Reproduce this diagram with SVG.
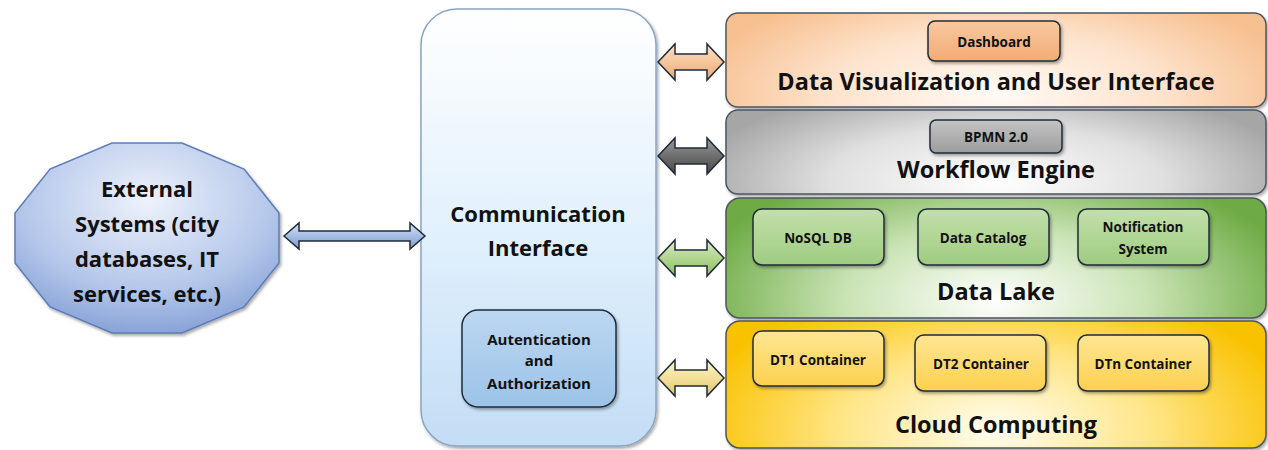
<svg xmlns="http://www.w3.org/2000/svg" width="1268" height="450" viewBox="0 0 1268 450">
<defs>
<linearGradient id="gComm" x1="0" y1="0" x2="0" y2="1"><stop offset="0" stop-color="#ffffff"/><stop offset="0.5" stop-color="#e2f1fd"/><stop offset="1" stop-color="#c3ddf5"/></linearGradient>
<radialGradient id="gExt" cx="0.5" cy="0.3" r="0.8"><stop offset="0" stop-color="#eef2fb"/><stop offset="0.6" stop-color="#b3c6ea"/><stop offset="1" stop-color="#7795d0"/></radialGradient>
<radialGradient id="gOr" cx="0.5" cy="0.85" r="0.75" gradientTransform="translate(0.5 0.85) scale(0.75 1.6) translate(-0.5 -0.85)"><stop offset="0" stop-color="#fffaf5"/><stop offset="0.55" stop-color="#fde3cc"/><stop offset="1" stop-color="#f7c091"/></radialGradient>
<radialGradient id="gGr" cx="0.5" cy="0.85" r="0.75" gradientTransform="translate(0.5 0.85) scale(0.75 1.6) translate(-0.5 -0.85)"><stop offset="0" stop-color="#ffffff"/><stop offset="0.55" stop-color="#e0e0e0"/><stop offset="1" stop-color="#a6a6a6"/></radialGradient>
<radialGradient id="gGn" cx="0.5" cy="0.85" r="0.75" gradientTransform="translate(0.5 0.85) scale(0.75 1.6) translate(-0.5 -0.85)"><stop offset="0" stop-color="#ffffff"/><stop offset="0.5" stop-color="#c9e3b4"/><stop offset="1" stop-color="#6eab45"/></radialGradient>
<radialGradient id="gYl" cx="0.5" cy="0.85" r="0.75" gradientTransform="translate(0.5 0.85) scale(0.75 1.6) translate(-0.5 -0.85)"><stop offset="0" stop-color="#fffdf0"/><stop offset="0.5" stop-color="#ffe68a"/><stop offset="1" stop-color="#f9c200"/></radialGradient>
<linearGradient id="aBlue" x1="0" y1="0" x2="0" y2="1"><stop offset="0" stop-color="#d6e2f5"/><stop offset="0.5" stop-color="#a6bde4"/><stop offset="1" stop-color="#7e9bcc"/></linearGradient>
<linearGradient id="aOr" x1="0" y1="0" x2="0" y2="1"><stop offset="0" stop-color="#fbe0c8"/><stop offset="0.5" stop-color="#f6c69b"/><stop offset="1" stop-color="#e4a878"/></linearGradient>
<linearGradient id="aGr" x1="0" y1="0" x2="0" y2="1"><stop offset="0" stop-color="#9a9a9a"/><stop offset="0.5" stop-color="#6e6e6e"/><stop offset="1" stop-color="#4a4a4a"/></linearGradient>
<linearGradient id="aGn" x1="0" y1="0" x2="0" y2="1"><stop offset="0" stop-color="#d9ecc8"/><stop offset="0.5" stop-color="#b2d68f"/><stop offset="1" stop-color="#8cbd66"/></linearGradient>
<linearGradient id="aYl" x1="0" y1="0" x2="0" y2="1"><stop offset="0" stop-color="#fdf3c6"/><stop offset="0.5" stop-color="#f4e09a"/><stop offset="1" stop-color="#dcc46c"/></linearGradient>
<linearGradient id="bOr" x1="0" y1="0" x2="0" y2="1"><stop offset="0" stop-color="#f9c9a0"/><stop offset="1" stop-color="#f2ab75"/></linearGradient>
<linearGradient id="bGr" x1="0" y1="0" x2="0" y2="1"><stop offset="0" stop-color="#c4c4c4"/><stop offset="1" stop-color="#9c9c9c"/></linearGradient>
<linearGradient id="bGn" x1="0" y1="0" x2="0" y2="1"><stop offset="0" stop-color="#c3e0ab"/><stop offset="1" stop-color="#9fcc80"/></linearGradient>
<linearGradient id="bYl" x1="0" y1="0" x2="0" y2="1"><stop offset="0" stop-color="#ffe694"/><stop offset="1" stop-color="#fdd14f"/></linearGradient>
<linearGradient id="bBl" x1="0" y1="0" x2="0" y2="1"><stop offset="0" stop-color="#bcd7f1"/><stop offset="1" stop-color="#9cc3e8"/></linearGradient>
<filter id="sh" x="-10%" y="-10%" width="120%" height="130%"><feDropShadow dx="1.5" dy="2" stdDeviation="1.5" flood-color="#000" flood-opacity="0.35"/></filter>
<path id="arr" d="M0,0 L17,-18 L17,-8 L49,-8 L49,-18 L66,0 L49,18 L49,8 L17,8 L17,18 Z"/>
</defs>
<style>
text{font-family:"Open Sans","Liberation Sans",sans-serif;font-weight:bold;fill:#111;text-anchor:middle}
.layer{stroke:#4d5560;stroke-width:1.5;filter:url(#sh)}
.box{stroke:#1f2b38;stroke-width:1.5;filter:url(#sh)}
.big{font-size:22px}
.ttl{font-size:23.5px}
.sm{font-size:13.5px}
.md{font-size:15px}
.arrow{stroke:#1f2b38;stroke-width:1.5;stroke-linejoin:miter}
</style>

<g id="external">
<polygon points="279,213 244,169 182,143 112,143 50,169 15,213 15,263 50,307 112,333 182,333 244,307 279,263" fill="url(#gExt)" stroke="#5d7cb8" stroke-width="1.5" filter="url(#sh)"/>
<text class="big" x="147" y="197">External</text>
<text class="big" x="147" y="232">Systems (city</text>
<text class="big" x="147" y="267">databases, IT</text>
<text class="big" x="147" y="302">services, etc.)</text>
</g>

<g id="comm">
<rect x="421" y="9" width="235" height="437" rx="36" fill="url(#gComm)" stroke="#8aa4c4" stroke-width="1.5" filter="url(#sh)"/>
<text class="big" x="538" y="222">Communication</text>
<text class="big" x="538" y="256">Interface</text>
</g>

<g id="auth">
<rect x="462" y="310" width="154" height="97" rx="16" fill="url(#bBl)" class="box"/>
<text class="md" x="539" y="345">Autentication</text>
<text class="md" x="539" y="366">and</text>
<text class="md" x="539" y="389">Authorization</text>
</g>

<g id="dataviz">
<rect x="726" y="13" width="540" height="94" rx="12" fill="url(#gOr)" class="layer"/>
<rect x="928" y="21" width="132" height="40" rx="7" fill="url(#bOr)" class="box"/>
<text class="sm" x="994" y="47">Dashboard</text>
<text class="ttl" x="996" y="90">Data Visualization and User Interface</text>
</g>

<g id="workflow">
<rect x="726" y="110" width="540" height="84" rx="12" fill="url(#gGr)" class="layer"/>
<rect x="930" y="120" width="132" height="33" rx="6" fill="url(#bGr)" class="box"/>
<text class="sm" x="996" y="142">BPMN 2.0</text>
<text class="ttl" x="996" y="178">Workflow Engine</text>
</g>

<g id="datalake">
<rect x="726" y="198" width="540" height="120" rx="14" fill="url(#gGn)" class="layer"/>
<rect x="753" y="209" width="131" height="56" rx="9" fill="url(#bGn)" class="box"/>
<text class="sm" x="818" y="243">NoSQL DB</text>
<rect x="918" y="209" width="131" height="56" rx="9" fill="url(#bGn)" class="box"/>
<text class="sm" x="983" y="243">Data Catalog</text>
<rect x="1078" y="209" width="131" height="56" rx="9" fill="url(#bGn)" class="box"/>
<text class="sm" x="1143" y="232">Notification</text>
<text class="sm" x="1143" y="254">System</text>
<text class="ttl" x="996" y="300">Data Lake</text>
</g>

<g id="cloud">
<rect x="726" y="321" width="540" height="127" rx="14" fill="url(#gYl)" class="layer"/>
<rect x="753" y="331" width="131" height="55" rx="9" fill="url(#bYl)" class="box"/>
<text class="sm" x="818" y="365">DT1 Container</text>
<rect x="915" y="335" width="131" height="56" rx="9" fill="url(#bYl)" class="box"/>
<text class="sm" x="981" y="369">DT2 Container</text>
<rect x="1078" y="335" width="131" height="56" rx="9" fill="url(#bYl)" class="box"/>
<text class="sm" x="1143" y="369">DTn Container</text>
<text class="ttl" x="996" y="433">Cloud Computing</text>
</g>

<g id="connectors">
<path d="M284,236 L299,223 L299,231 L410,231 L410,223 L425,236 L410,249 L410,241 L299,241 L299,249 Z" fill="url(#aBlue)" class="arrow" stroke="#2b3c5a"/>
<use href="#arr" x="658" y="62" fill="url(#aOr)" class="arrow"/>
<use href="#arr" x="658" y="156" fill="url(#aGr)" class="arrow"/>
<use href="#arr" x="658" y="258" fill="url(#aGn)" class="arrow"/>
<use href="#arr" x="658" y="378" fill="url(#aYl)" class="arrow"/>
</g>
</svg>
